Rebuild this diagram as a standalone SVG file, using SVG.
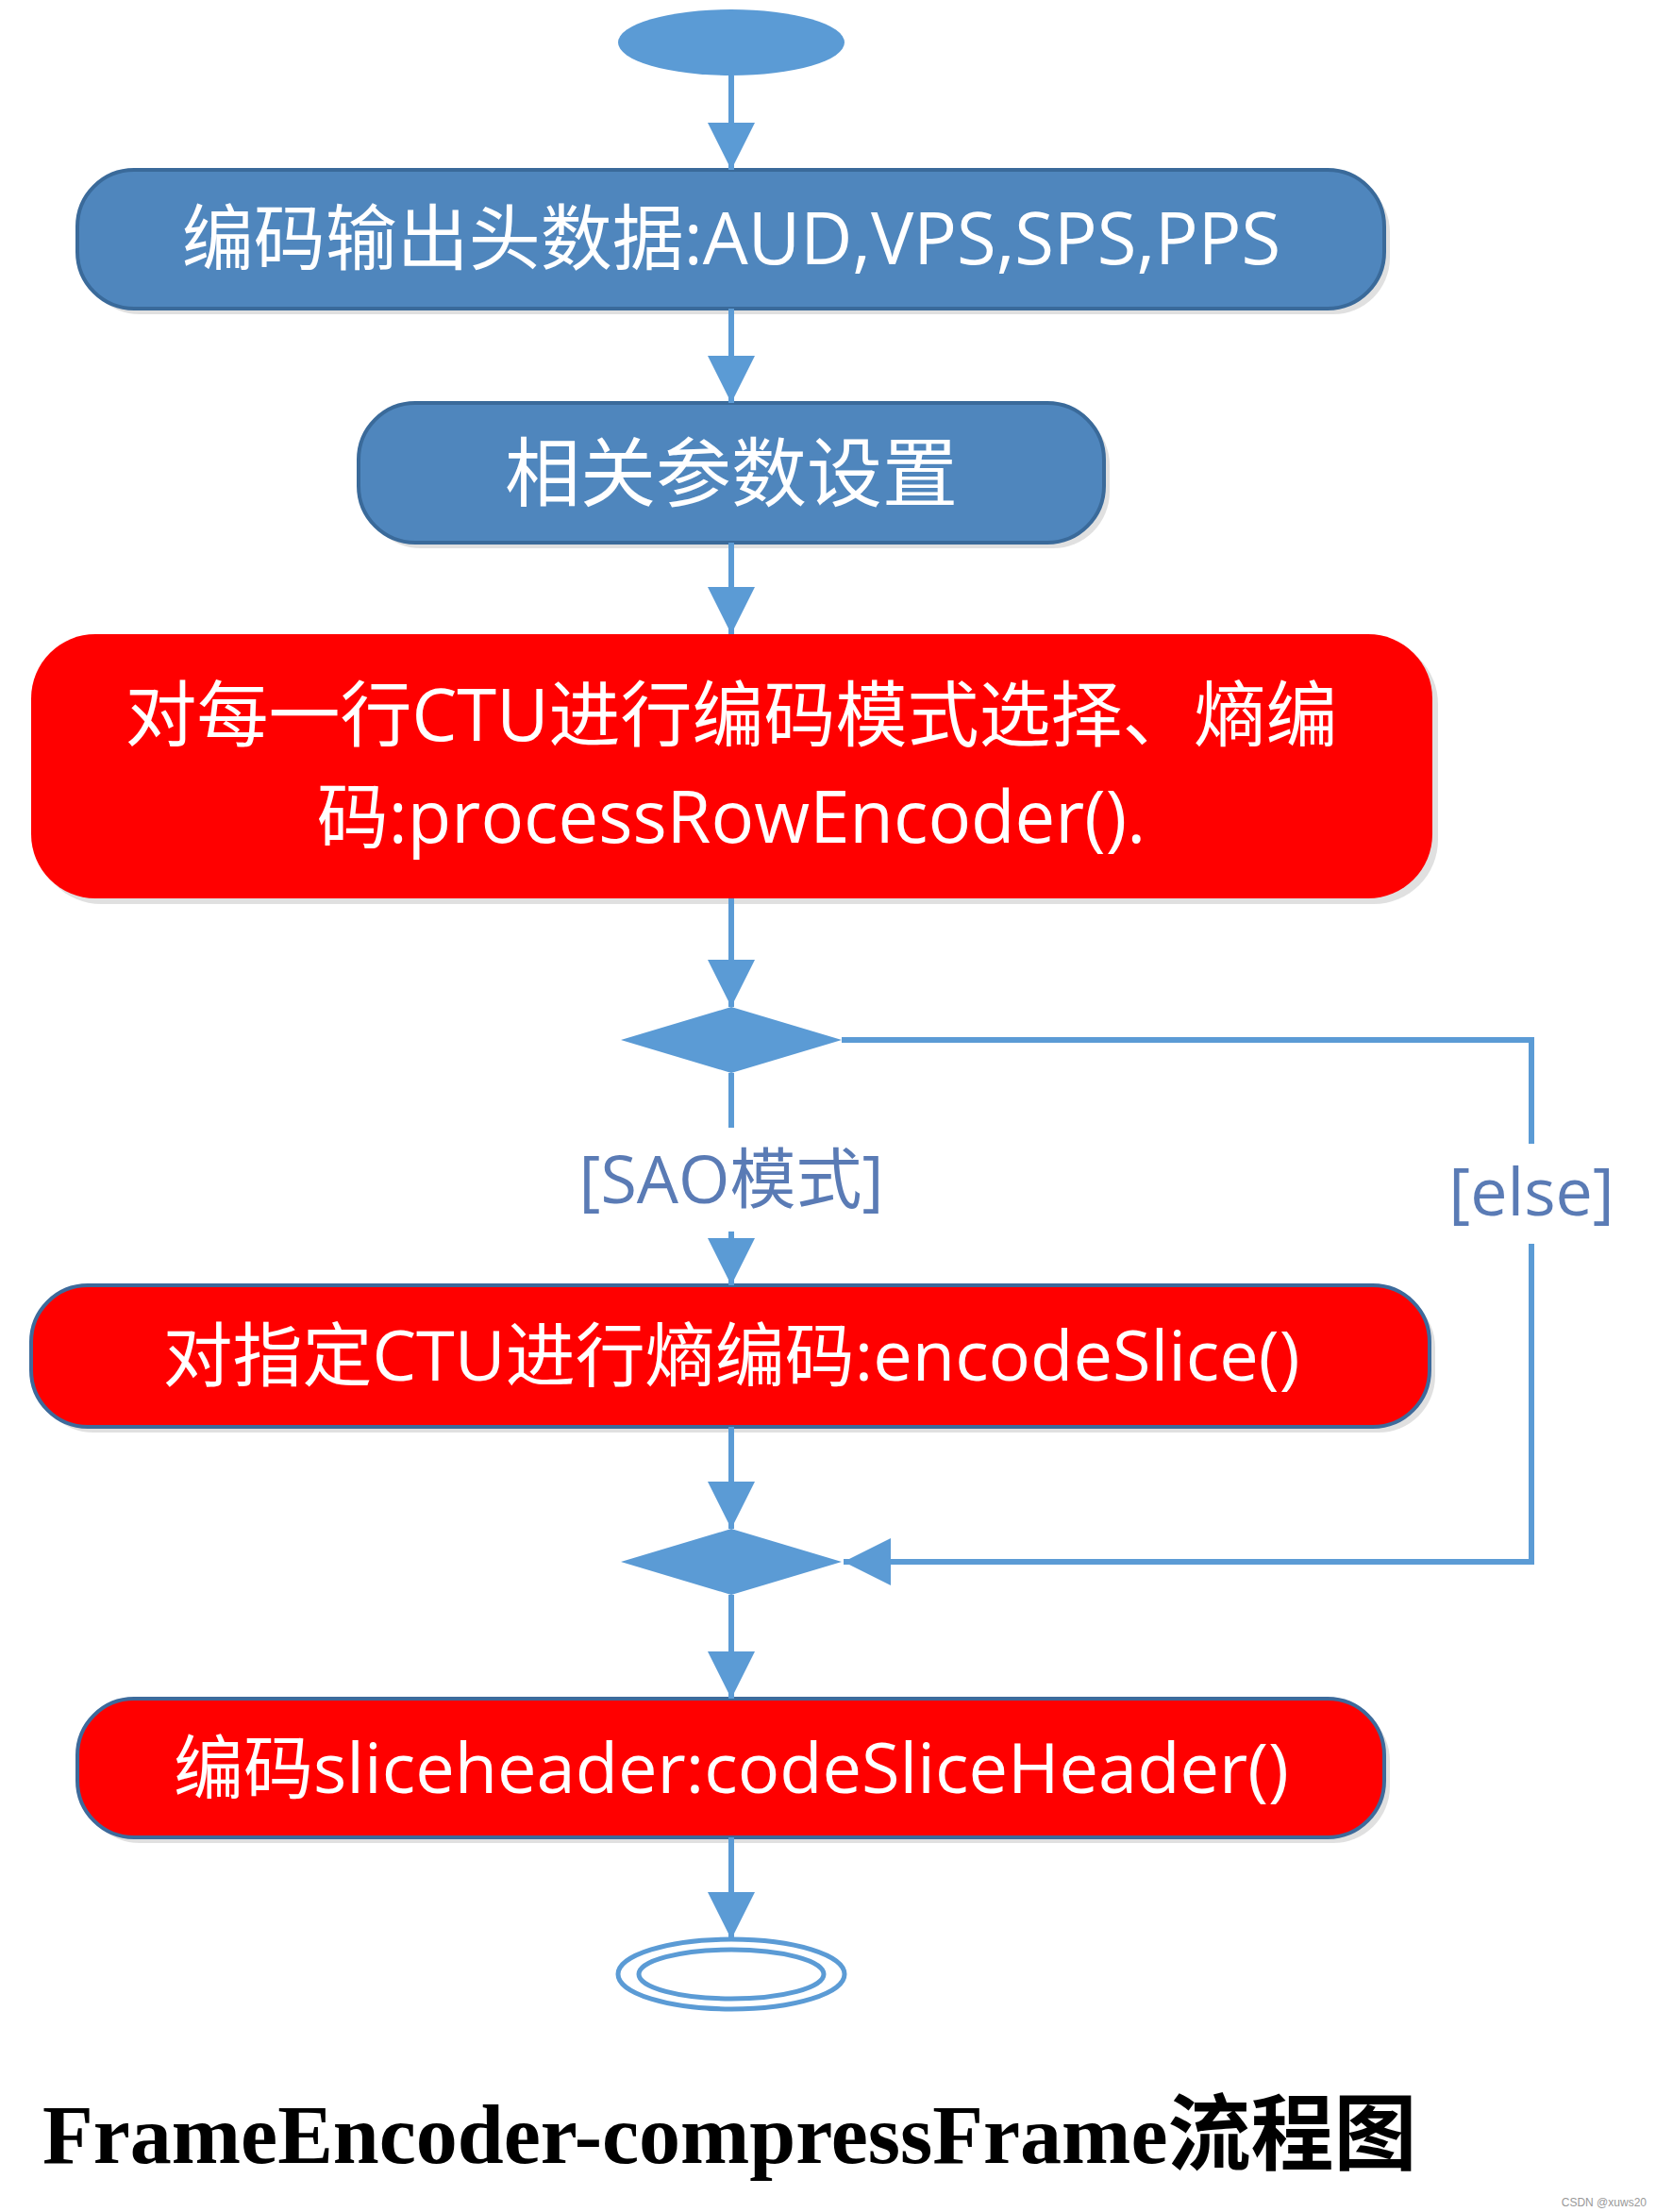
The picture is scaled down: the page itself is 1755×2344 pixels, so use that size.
<svg xmlns="http://www.w3.org/2000/svg" width="1755" height="2344" viewBox="0 0 1755 2344">
<style>
.ln{stroke:#5b9bd5;stroke-width:6;fill:none}
.blue{fill:#4f86bd;stroke:#3a6a9a;stroke-width:4}
.red{fill:#ff0000;stroke:#3d6a9b;stroke-width:4}
.t{font-family:"Open Sans","Noto Sans CJK SC",sans-serif;fill:#fff;text-anchor:middle}
.lbl{font-family:"Open Sans","Noto Sans CJK SC",sans-serif;fill:#5a7bb5;text-anchor:middle;font-size:70px}
.sh{fill:#000;opacity:0.12}
</style>
<defs>
<marker id="ah" markerUnits="userSpaceOnUse" markerWidth="52" markerHeight="50" refX="50" refY="25" orient="auto">
<path d="M0,0 L50,25 L0,50 Z" fill="#5b9bd5"/>
</marker>
</defs>
<rect width="1755" height="2344" fill="#fff"/>
<g id="start"><ellipse cx="775" cy="45" rx="120" ry="35" fill="#5b9bd5"/></g>
<g id="n1"><rect x="88" y="186" width="1385" height="147" rx="60" class="sh"/><rect x="82" y="180" width="1385" height="147" rx="60" class="blue"/>
<text x="775" y="280" class="t" font-size="76">编码输出头数据:AUD,VPS,SPS,PPS</text></g>
<g id="n2"><rect x="386" y="433" width="790" height="148" rx="60" class="sh"/><rect x="380" y="427" width="790" height="148" rx="60" class="blue"/>
<text x="775" y="530" class="t" font-size="80">相关参数设置</text></g>
<g id="n3"><rect x="39" y="678" width="1485" height="280" rx="68" class="sh"/><rect x="33" y="672" width="1485" height="280" rx="68" fill="#ff0000"/>
<text x="775" y="785" class="t" font-size="76">对每一行CTU进行编码模式选择、熵编</text>
<text x="775" y="893" class="t" font-size="76">码:processRowEncoder().</text></g>
<g id="d1"><path d="M658,1102 L775,1067 L892,1102 L775,1137 Z" fill="#5b9bd5"/></g>
<g id="n4"><rect x="39" y="1368" width="1482" height="150" rx="60" class="sh"/><rect x="33" y="1362" width="1482" height="150" rx="60" class="red"/>
<text x="775" y="1463" class="t" font-size="74">对指定CTU进行熵编码:encodeSlice()</text></g>
<g id="d2"><path d="M658,1655 L775,1620 L892,1655 L775,1690 Z" fill="#5b9bd5"/></g>
<g id="n5"><rect x="88" y="1806" width="1385" height="147" rx="60" class="sh"/><rect x="82" y="1800" width="1385" height="147" rx="60" class="red"/>
<text x="775" y="1900" class="t" font-size="74">编码sliceheader:codeSliceHeader()</text></g>
<g id="end"><ellipse cx="775" cy="2092" rx="120" ry="37" fill="none" stroke="#5b9bd5" stroke-width="5"/><ellipse cx="775" cy="2092" rx="98" ry="26" fill="none" stroke="#5b9bd5" stroke-width="5"/></g>
<g id="connectors">
<line x1="775" y1="80" x2="775" y2="180" class="ln" marker-end="url(#ah)"/>
<line x1="775" y1="327" x2="775" y2="427" class="ln" marker-end="url(#ah)"/>
<line x1="775" y1="575" x2="775" y2="672" class="ln" marker-end="url(#ah)"/>
<line x1="775" y1="952" x2="775" y2="1067" class="ln" marker-end="url(#ah)"/>
<line x1="775" y1="1137" x2="775" y2="1195" class="ln"/>
<line x1="775" y1="1305" x2="775" y2="1362" class="ln" marker-end="url(#ah)"/>
<line x1="775" y1="1512" x2="775" y2="1620" class="ln" marker-end="url(#ah)"/>
<line x1="775" y1="1690" x2="775" y2="1800" class="ln" marker-end="url(#ah)"/>
<line x1="775" y1="1947" x2="775" y2="2055" class="ln" marker-end="url(#ah)"/>
<polyline points="892,1102 1623,1102 1623,1212" class="ln"/>
<polyline points="1623,1318 1623,1655 894,1655" class="ln" marker-end="url(#ah)"/>
<text x="775" y="1275" class="lbl">[SAO模式]</text>
<text x="1623" y="1288" class="lbl">[else]</text>
</g>
<text x="45" y="2292" font-family="'Liberation Serif','Noto Sans CJK SC',serif" font-weight="bold" font-size="88">FrameEncoder-compressFrame流程图</text>
<text x="1745" y="2338" font-family="'Liberation Sans',sans-serif" font-size="12" fill="#999" text-anchor="end">CSDN @xuws20</text>
</svg>
